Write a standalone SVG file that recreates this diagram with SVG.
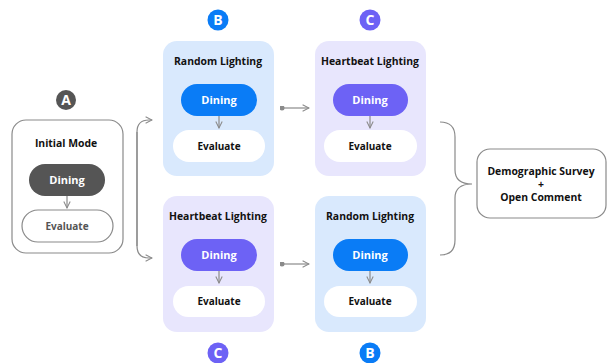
<svg xmlns="http://www.w3.org/2000/svg" width="608" height="363" viewBox="0 0 608 363">
<defs>
<marker id="chev" viewBox="0 0 10 10" refX="9" refY="5" markerWidth="8" markerHeight="8" markerUnits="userSpaceOnUse" orient="auto">
<path d="M1,1 L9,5 L1,9" fill="none" stroke="#8a8a8a" stroke-width="1.3"/>
</marker>
<marker id="dot" viewBox="0 0 10 10" refX="5" refY="5" markerWidth="5" markerHeight="5" markerUnits="userSpaceOnUse">
<circle cx="5" cy="5" r="5" fill="#8a8a8a"/>
</marker>
</defs>
<style>
text{font-family:"Open Sans","Noto Sans","Liberation Sans",sans-serif;font-weight:bold;text-anchor:middle}
.title{font-size:10.4px;fill:#111}
.din{font-size:11px;fill:#fff}
.eval{font-size:10px;fill:#111}
.badge{font-size:14px;fill:#fff}
.blueBox{fill:#d9e9fd}
.purpBox{fill:#e8e6fd}
.blue{fill:#0a7cf6}
.purp{fill:#6d62f5}
.white{fill:#fff}
.line{fill:none;stroke:#8a8a8a;stroke-width:1.2}
</style>
<rect width="608" height="363" fill="#fff"/>

<g id="nodeA">
<circle cx="66" cy="100" r="10" fill="#555"/>
<text class="badge" x="66" y="105">A</text>
<rect x="12" y="120" width="111" height="133" rx="14" fill="#fff" stroke="#8a8a8a" stroke-width="1.2"/>
<text class="title" x="66" y="147">Initial Mode</text>
<rect x="29" y="164" width="76" height="32" rx="16" fill="#555"/>
<text class="din" x="67" y="184">Dining</text>
<rect x="22" y="210" width="91" height="32" rx="16" fill="#fff" stroke="#8a8a8a" stroke-width="1.2"/>
<text class="eval" x="67" y="230" style="fill:#555">Evaluate</text>
<line class="line" x1="67" y1="196" x2="67" y2="208" marker-end="url(#chev)"/>
</g>

<g id="nodeB1">
<circle cx="218" cy="20" r="10.5" class="blue"/>
<text class="badge" x="218" y="25">B</text>
<rect x="163" y="41" width="111" height="135" rx="14" class="blueBox"/>
<text class="title" x="218" y="65">Random Lighting</text>
<rect x="181" y="84" width="76" height="32" rx="16" class="blue"/>
<text class="din" x="219" y="104">Dining</text>
<rect x="173" y="130" width="92" height="32" rx="16" class="white"/>
<text class="eval" x="219" y="150">Evaluate</text>
<line class="line" x1="219" y1="116" x2="219" y2="128" marker-end="url(#chev)"/>
</g>

<g id="nodeC1">
<circle cx="370" cy="20" r="10.5" class="purp"/>
<text class="badge" x="370" y="25">C</text>
<rect x="315" y="41" width="111" height="135" rx="14" class="purpBox"/>
<text class="title" x="370" y="65">Heartbeat Lighting</text>
<rect x="333" y="84" width="75" height="32" rx="16" class="purp"/>
<text class="din" x="370" y="104">Dining</text>
<rect x="324" y="130" width="93" height="32" rx="16" class="white"/>
<text class="eval" x="370" y="150">Evaluate</text>
<line class="line" x1="370" y1="116" x2="370" y2="128" marker-end="url(#chev)"/>
</g>

<g id="nodeC2">
<rect x="163" y="196" width="111" height="136" rx="14" class="purpBox"/>
<text class="title" x="218" y="220">Heartbeat Lighting</text>
<rect x="181" y="239" width="76" height="32" rx="16" class="purp"/>
<text class="din" x="219" y="259">Dining</text>
<rect x="173" y="286" width="92" height="31" rx="15.5" class="white"/>
<text class="eval" x="219" y="305">Evaluate</text>
<line class="line" x1="219" y1="271" x2="219" y2="283" marker-end="url(#chev)"/>
<circle cx="218" cy="353" r="10.5" class="purp"/>
<text class="badge" x="218" y="358">C</text>
</g>

<g id="nodeB2">
<rect x="315" y="196" width="111" height="136" rx="14" class="blueBox"/>
<text class="title" x="370" y="220">Random Lighting</text>
<rect x="333" y="239" width="75" height="32" rx="16" class="blue"/>
<text class="din" x="370" y="259">Dining</text>
<rect x="324" y="286" width="93" height="31" rx="15.5" class="white"/>
<text class="eval" x="370" y="305">Evaluate</text>
<line class="line" x1="370" y1="271" x2="370" y2="283" marker-end="url(#chev)"/>
<circle cx="370" cy="353" r="10.5" class="blue"/>
<text class="badge" x="370" y="358">B</text>
</g>

<g id="nodeSurvey">
<rect x="477" y="149" width="129" height="69" rx="13" fill="#fff" stroke="#8a8a8a" stroke-width="1.2"/>
<text class="title" x="541" y="175">Demographic Survey</text>
<text class="title" x="541" y="188">+</text>
<text class="title" x="541" y="201">Open Comment</text>
</g>

<g id="connectors">
<path class="line" d="M137,246 L137,132 Q137,120 149,120 L152,120" marker-end="url(#chev)"/>
<path class="line" d="M137,132 L137,246 Q137,258 149,258 L152,258" marker-end="url(#chev)"/>
<line class="line" x1="282" y1="108" x2="309" y2="108" marker-start="url(#dot)" marker-end="url(#chev)"/>
<line class="line" x1="282" y1="264" x2="309" y2="264" marker-start="url(#dot)" marker-end="url(#chev)"/>
<path class="line" d="M440,122 Q455,122 455,137 L455,170 Q455,184 472,184 Q455,184 455,198 L455,240 Q455,255 440,255"/>
</g>
</svg>
